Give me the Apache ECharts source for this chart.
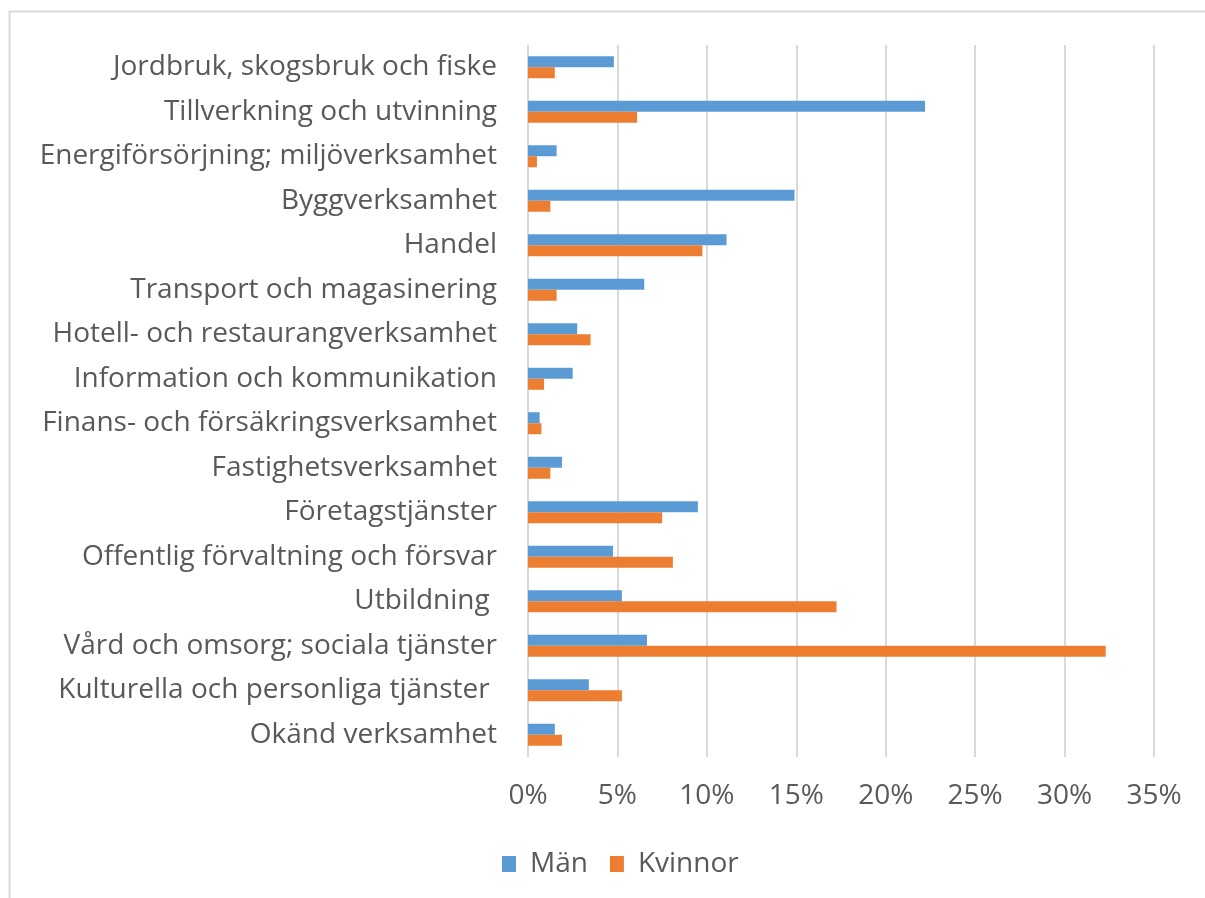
<!DOCTYPE html>
<html>
<head>
<meta charset="utf-8">
<script src="https://cdn.jsdelivr.net/npm/echarts@6/dist/echarts.min.js"></script>
<style>
  html, body { margin: 0; padding: 0; background: #fff; }
  #chart { width: 1205px; height: 898px; }
</style>
</head>
<body>
<div id="chart"></div>
<script>
// branscher, uppifrån och ned
var categories = [
  'Jordbruk, skogsbruk och fiske',
  'Tillverkning och utvinning',
  'Energiförsörjning; miljöverksamhet',
  'Byggverksamhet',
  'Handel',
  'Transport och magasinering',
  'Hotell- och restaurangverksamhet',
  'Information och kommunikation',
  'Finans- och försäkringsverksamhet',
  'Fastighetsverksamhet',
  'Företagstjänster',
  'Offentlig förvaltning och försvar',
  'Utbildning ',
  'Vård och omsorg; sociala tjänster',
  'Kulturella och personliga tjänster ',
  'Okänd verksamhet'
];
var man = [4.8, 22.2, 1.6, 14.9, 11.1, 6.5, 2.75, 2.5, 0.65, 1.9, 9.5, 4.75, 5.25, 6.65, 3.4, 1.5];
var kvinnor = [1.5, 6.1, 0.5, 1.25, 9.75, 1.6, 3.5, 0.9, 0.75, 1.25, 7.5, 8.1, 17.25, 32.3, 5.25, 1.9];
var xTicks = [0, 5, 10, 15, 20, 25, 30, 35];

var chart = echarts.init(document.getElementById('chart'));
var textCol = '#595959';
var fnt = 'Open Sans';
var fs = 28;

chart.setOption({
  animation: false,
  textStyle: { fontFamily: fnt },
  graphic: [{
    type: 'rect',
    shape: { x: 9.5, y: 11.5, width: 1200, height: 890 },
    style: { fill: 'none', stroke: '#d9d9d9', lineWidth: 2 },
    silent: true
  }],
  grid: { left: 528, right: 51, top: 45, bottom: 141, containLabel: false },
  legend: {
    left: 497,
    top: 845,
    itemWidth: 14,
    itemHeight: 16,
    itemGap: 22,
    icon: 'rect',
    textStyle: { color: textCol, fontSize: fs, fontFamily: fnt, padding: [0, 0, 0, 9] },
    data: ['Män', 'Kvinnor']
  },
  xAxis: {
    type: 'value',
    min: xTicks[0],
    max: xTicks[xTicks.length - 1],
    interval: 5,
    axisLine: { show: false },
    axisTick: { show: false },
    splitLine: { show: true, lineStyle: { color: '#d9d9d9', width: 2 } },
    axisLabel: {
      color: textCol,
      fontSize: fs,
      fontFamily: fnt,
      margin: 25,
      formatter: function (v) { return v + '%'; }
    }
  },
  yAxis: {
    type: 'category',
    inverse: true,
    data: categories,
    axisLine: { show: false },
    axisTick: { show: false },
    axisLabel: {
      color: textCol,
      fontSize: fs,
      fontFamily: fnt,
      margin: 31
    }
  },
  series: [
    {
      name: 'Män',
      type: 'bar',
      data: man,
      barWidth: 11,
      barGap: '0%',
      itemStyle: { color: '#5b9bd5' }
    },
    {
      name: 'Kvinnor',
      type: 'bar',
      data: kvinnor,
      barWidth: 11,
      barGap: '0%',
      itemStyle: { color: '#ed7d31' }
    }
  ]
});
</script>
</body>
</html>
